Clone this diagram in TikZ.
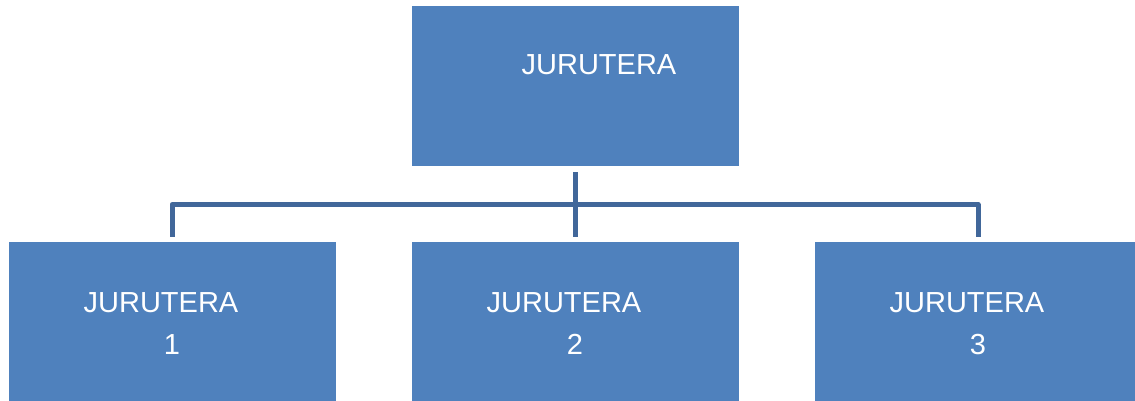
\documentclass[tikz,border=0pt]{standalone}
\usepackage{fontspec}
\setmainfont{Liberation Sans}
\definecolor{boxblue}{HTML}{4F81BD}
\definecolor{linkblue}{HTML}{41679A}
\begin{document}
\begin{tikzpicture}[x=1pt,y=-1pt,
  boxnode/.style={fill=boxblue,draw=none,minimum width=327pt,minimum height=160pt,inner sep=0pt},
  txt/.style={text=white,font=\fontsize{29}{34}\selectfont,anchor=base,inner sep=0pt},
  conn/.style={draw=linkblue,line width=5pt,line join=round}]
\useasboundingbox (0,0) rectangle (1135,401);
\begin{scope}
\clip (0,0) rectangle (1135,401);
\node[boxnode] (top) at (575.5,86) {};
\node[boxnode] (b1) at (172.5,322) {};
\node[boxnode] (b2) at (575.5,322) {};
\node[boxnode] (b3) at (978.5,322) {};
\end{scope}
\node[txt] (tt) at (599,75) {JURUTERA};
\node[txt] (t1a) at (161,312) {JURUTERA};
\node[txt] (t1b) at (172,354) {1};
\node[txt] (t2a) at (564,312) {JURUTERA};
\node[txt] (t2b) at (575,354) {2};
\node[txt] (t3a) at (967,312) {JURUTERA};
\node[txt] (t3b) at (978,354) {3};
\coordinate (bar) at (575,204.5);
\draw[conn] ([yshift=-6pt]top.south -| bar) -- ([yshift=5pt]b2.north -| bar);
\draw[conn] ([yshift=5pt]b1.north -| 172,0) -- (bar -| 172,0) -- (bar -| 978,0) -- ([yshift=5pt]b3.north -| 978,0);
\end{tikzpicture}
\end{document}
